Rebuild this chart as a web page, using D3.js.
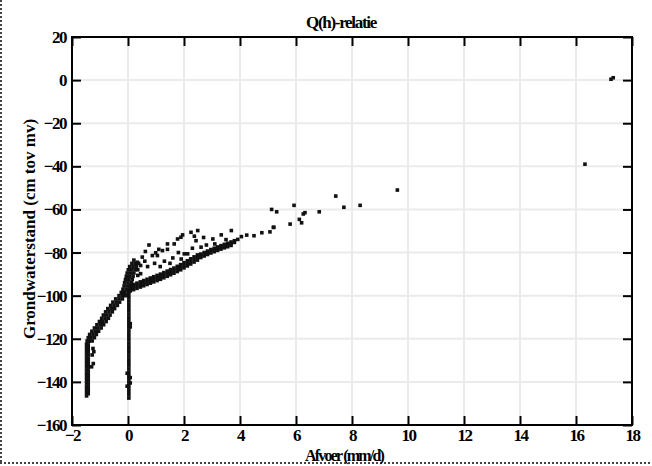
<!DOCTYPE html>
<html>
<head>
<meta charset="utf-8">
<script src="https://cdnjs.cloudflare.com/ajax/libs/d3/7.8.5/d3.min.js"></script>
<style>
  body { margin: 0; background: #fff; }
</style>
</head>
<body>
<div id="chart"></div>
<script>
/*
 * Globals: d3
 */
var xTicks = [-2, 0, 2, 4, 6, 8, 10, 12, 14, 16, 18];
var yTicks = [-160, -140, -120, -100, -80, -60, -40, -20, 0, 20];

// vertical stack near Q = -1.5
var colLeft = [
  [-1.48, -146.5], [-1.48, -145], [-1.48, -143.5], [-1.48, -142], [-1.48, -140.5], [-1.48, -139],
  [-1.48, -137.5], [-1.48, -136], [-1.48, -134.5], [-1.48, -133], [-1.48, -131.5], [-1.48, -130],
  [-1.48, -128.5], [-1.48, -127], [-1.48, -125.5], [-1.48, -124], [-1.48, -122.5],
  [-1.42, -145.5], [-1.42, -144], [-1.42, -142.5], [-1.42, -141], [-1.42, -139.5], [-1.42, -138],
  [-1.42, -136.5], [-1.42, -135], [-1.42, -133.5], [-1.42, -132], [-1.42, -130.5], [-1.42, -129],
  [-1.42, -127.5], [-1.42, -126], [-1.42, -124.5], [-1.42, -123], [-1.42, -121.5],
  [-1.25, -124.5], [-1.22, -126], [-1.28, -127.5], [-1.24, -131.5], [-1.3, -133]
];

// vertical stack at Q = 0
var colZero = [
  [0.03, -147.5], [0.03, -146], [0.03, -144.5], [0.03, -143], [0.03, -141.5], [0.03, -140],
  [0.03, -138.5], [0.03, -137], [0.03, -135.5], [0.03, -134], [0.03, -132.5], [0.03, -131],
  [0.03, -129.5], [0.03, -128], [0.03, -126.5], [0.03, -125], [0.03, -123.5], [0.03, -122],
  [0.03, -120.5], [0.03, -119], [0.03, -117.5], [0.03, -116], [0.03, -114.5], [0.03, -113],
  [0.03, -111.5], [0.03, -110], [0.03, -108.5], [0.03, -107], [0.03, -105.5], [0.03, -104],
  [0.03, -102.5], [0.03, -101], [0.03, -99.5], [0.03, -98],
  [0.08, -113], [0.08, -114.5], [-0.03, -136], [0.08, -138], [0.08, -140.5], [-0.03, -142]
];

// curved band between the two stacks
var bandLeft = [
  [-1.46, -121], [-1.38, -121], [-1.28, -121],
  [-1.42, -119.5], [-1.32, -119.5], [-1.20, -119.5],
  [-1.37, -118], [-1.25, -118], [-1.13, -118],
  [-1.29, -116.5], [-1.17, -116.5], [-1.05, -116.5],
  [-1.20, -115], [-1.08, -115], [-0.96, -115],
  [-1.11, -113.5], [-0.99, -113.5], [-0.87, -113.5],
  [-1.02, -112], [-0.90, -112], [-0.78, -112],
  [-0.94, -110.5], [-0.82, -110.5], [-0.70, -110.5],
  [-0.88, -109], [-0.76, -109], [-0.64, -109],
  [-0.80, -107.5], [-0.68, -107.5], [-0.56, -107.5],
  [-0.72, -106], [-0.60, -106], [-0.48, -106],
  [-0.62, -104.5], [-0.50, -104.5], [-0.38, -104.5],
  [-0.54, -103], [-0.42, -103], [-0.30, -103],
  [-0.44, -101.5], [-0.32, -101.5], [-0.20, -101.5],
  [-0.32, -100], [-0.20, -100], [-0.08, -100],
  [-0.24, -98.5], [-0.12, -98.5], [0.00, -98.5],
  [-0.18, -97], [-0.06, -97], [0.06, -97],
  [-0.14, -95.5], [-0.02, -95.5], [0.10, -95.5],
  [-0.12, -94], [0.00, -94], [0.12, -94],
  [-0.09, -92.5], [0.03, -92.5], [0.15, -92.5],
  [-0.06, -91], [0.06, -91], [0.18, -91],
  [-0.03, -89.5], [0.09, -89.5], [0.21, -89.5],
  [0.01, -88], [0.13, -88], [0.25, -88],
  [0.06, -86.5], [0.18, -86.5], [0.30, -86.5],
  [0.14, -85], [0.26, -85], [0.38, -85]
];

// lower branch right of Q = 0: top edge, middle and bottom edge
var bandLowerTop = [
  [0.08, -95.4], [0.2, -94.8], [0.32, -94.2], [0.44, -93.6], [0.56, -93.0], [0.68, -92.4],
  [0.8, -91.8], [0.92, -91.2], [1.04, -90.6], [1.16, -90.0], [1.28, -89.3], [1.4, -88.6],
  [1.52, -87.9], [1.64, -87.2], [1.76, -86.4], [1.88, -85.6], [2.0, -84.7], [2.12, -83.8],
  [2.24, -82.9], [2.36, -82.0], [2.48, -81.1], [2.6, -80.7], [2.72, -80.0], [2.84, -79.3],
  [2.96, -78.6], [3.08, -78.0], [3.2, -77.4], [3.32, -76.8], [3.44, -76.2], [3.56, -75.7],
  [3.68, -75.1], [3.8, -74.5], [3.92, -73.9]
];
var bandLowerMid = [
  [0.08, -96.6], [0.2, -96.0], [0.32, -95.4], [0.44, -94.8], [0.56, -94.2], [0.68, -93.6],
  [0.8, -93.0], [0.92, -92.4], [1.04, -91.8], [1.16, -91.2], [1.28, -90.5], [1.4, -89.8],
  [1.52, -89.1], [1.64, -88.4], [1.76, -87.6], [1.88, -86.8], [2.0, -85.9], [2.12, -85.0],
  [2.24, -84.1], [2.36, -83.2], [2.48, -82.3], [2.6, -81.5], [2.72, -80.8], [2.84, -80.1],
  [2.96, -79.4], [3.08, -78.8], [3.2, -78.2], [3.32, -77.6], [3.44, -77.0], [3.56, -76.5],
  [3.68, -75.9], [3.8, -75.3]
];
var bandLowerBottom = [
  [0.08, -97.8], [0.2, -97.2], [0.32, -96.6], [0.44, -96.0], [0.56, -95.4], [0.68, -94.8],
  [0.8, -94.2], [0.92, -93.6], [1.04, -93.0], [1.16, -92.4], [1.28, -91.7], [1.4, -91.0],
  [1.52, -90.3], [1.64, -89.6], [1.76, -88.8], [1.88, -88.0], [2.0, -87.1], [2.12, -86.2],
  [2.24, -85.3], [2.36, -84.4], [2.48, -83.5], [2.6, -82.3], [2.72, -81.6], [2.84, -80.9],
  [2.96, -80.2], [3.08, -79.6], [3.2, -79.0], [3.32, -78.4], [3.44, -77.8], [3.56, -77.3],
  [3.68, -76.7]
];

// loose points above the lower branch
var upperScatter = [
  [0.75, -76.5], [1.05, -81.4], [1.41, -76], [1.77, -73.7], [1.95, -71.8], [2.49, -69.8],
  [2.37, -72.4], [3.03, -73.7], [3.33, -71.8], [3.69, -69.8], [0.21, -83.5], [0.35, -90.6],
  [0.45, -89.8], [2.01, -80.6], [2.61, -77.5], [2.25, -70.6], [2.43, -74.5], [1.89, -72.9],
  [1.65, -76], [1.41, -78.5], [1.23, -79.1], [0.99, -80.1], [0.87, -81.4], [0.51, -82.1],
  [0.33, -84.5], [2.13, -80.6], [0.6, -84], [0.45, -86], [0.95, -85], [1.3, -84], [1.6, -82.5],
  [1.8, -80], [2.3, -78], [2.8, -76.5], [3.1, -76], [3.5, -74], [0.35, -88], [0.7, -86.5],
  [1.15, -86.5], [1.5, -85], [1.9, -83], [0.62, -79.5], [1.1, -78.5], [2.7, -73]
];

// isolated points at high discharge
var farScatter = [
  [4.24, -71.9], [4.78, -70.8], [5.07, -70.4], [5.21, -68.3], [5.13, -60.0], [5.31, -61.1],
  [5.79, -66.8], [5.93, -58.1], [6.12, -64.6], [6.20, -66.2], [6.32, -61.5], [6.26, -62.1],
  [6.83, -61.1], [7.42, -53.8], [7.71, -59.0], [8.29, -58.1], [9.62, -51.0], [16.32, -39.0],
  [17.33, 1.1], [17.25, 0.4], [5.19, -68.3], [4.05, -72.6], [4.5, -72.2]
];

(function() {
  var width = 652;
  var height = 466;
  var left = 72, right = 632, top = 37, bottom = 425;
  var tickLen = 9;
  var fontFamily = '"Liberation Serif", "Times New Roman", serif';

  var x = d3.scaleLinear().domain([-2, 18]).range([left, right]);
  var y = d3.scaleLinear().domain([-160, 20]).range([bottom, top]);

  var svg = d3.select('#chart').append('svg').attr('width', width).attr('height', height);

  // dotted page border (left and bottom only visible)
  svg.append('line').attr('x1', 1).attr('x2', 1).attr('y1', 0).attr('y2', 463)
    .attr('stroke', '#444').attr('stroke-width', 2).attr('stroke-dasharray', '2,2');
  svg.append('line').attr('x1', 0).attr('x2', width).attr('y1', 463).attr('y2', 463)
    .attr('stroke', '#444').attr('stroke-width', 2).attr('stroke-dasharray', '2,2');

  // grid
  var grid = svg.append('g').attr('class', 'grid');
  grid.selectAll('.vg').data(xTicks.slice(1, -1)).enter().append('line')
    .attr('x1', function(d) { return x(d); }).attr('x2', function(d) { return x(d); })
    .attr('y1', top).attr('y2', bottom)
    .attr('stroke', '#ebebeb').attr('stroke-width', 2);
  grid.selectAll('.hg').data(yTicks.slice(1, -1)).enter().append('line')
    .attr('y1', function(d) { return y(d); }).attr('y2', function(d) { return y(d); })
    .attr('x1', left).attr('x2', right)
    .attr('stroke', '#ebebeb').attr('stroke-width', 2);

  // points
  var all = [].concat(colLeft, colZero, bandLeft, bandLowerTop, bandLowerMid, bandLowerBottom, upperScatter, farScatter);
  var s = 3.6;
  svg.append('g').selectAll('rect').data(all).enter().append('rect')
    .attr('x', function(d) { return x(d[0]) - s / 2; })
    .attr('y', function(d) { return y(d[1]) - s / 2; })
    .attr('width', s).attr('height', s)
    .attr('fill', '#111');

  // axes, ticks inward on all four sides
  function styleAxis(g) {
    g.select('.domain').remove();
    g.selectAll('.tick line').attr('stroke', '#000').attr('stroke-width', 2);
    g.selectAll('text')
      .attr('font-family', fontFamily).attr('font-weight', 'bold')
      .attr('font-size', 17).attr('letter-spacing', '-1.5px').attr('fill', '#000');
  }
  svg.append('g').attr('transform', 'translate(0,' + bottom + ')')
    .call(d3.axisBottom(x).tickValues(xTicks).tickSize(-tickLen).tickPadding(4).tickFormat(d3.format('d')))
    .call(styleAxis);
  svg.append('g').attr('transform', 'translate(0,' + top + ')')
    .call(d3.axisTop(x).tickValues(xTicks).tickSize(-tickLen).tickFormat(''))
    .call(styleAxis);
  svg.append('g').attr('transform', 'translate(' + left + ',0)')
    .call(d3.axisLeft(y).tickValues(yTicks).tickSize(-tickLen).tickPadding(6).tickFormat(d3.format('d')))
    .call(styleAxis);
  svg.append('g').attr('transform', 'translate(' + right + ',0)')
    .call(d3.axisRight(y).tickValues(yTicks).tickSize(-tickLen).tickFormat(''))
    .call(styleAxis);

  // frame
  svg.append('rect').attr('x', left).attr('y', top)
    .attr('width', right - left).attr('height', bottom - top)
    .attr('fill', 'none').attr('stroke', '#000').attr('stroke-width', 2);

  // titles
  function label(t) {
    return t.attr('font-family', fontFamily).attr('font-weight', 'bold')
      .attr('font-size', 17).attr('fill', '#000');
  }
  label(svg.append('text')).attr('x', 341).attr('y', 28).attr('text-anchor', 'middle')
    .attr('letter-spacing', '-1.3px').text('Q(h)-relatie');
  label(svg.append('text')).attr('x', 344).attr('y', 461).attr('text-anchor', 'middle')
    .attr('font-size', 16).attr('letter-spacing', '-1.8px').text('Afvoer (mm/d)');
  label(svg.append('text')).attr('transform', 'translate(35,229) rotate(-90)').attr('text-anchor', 'middle')
    .text('Grondwaterstand (cm tov mv)');
}).call(this);
</script>
</body>
</html>
